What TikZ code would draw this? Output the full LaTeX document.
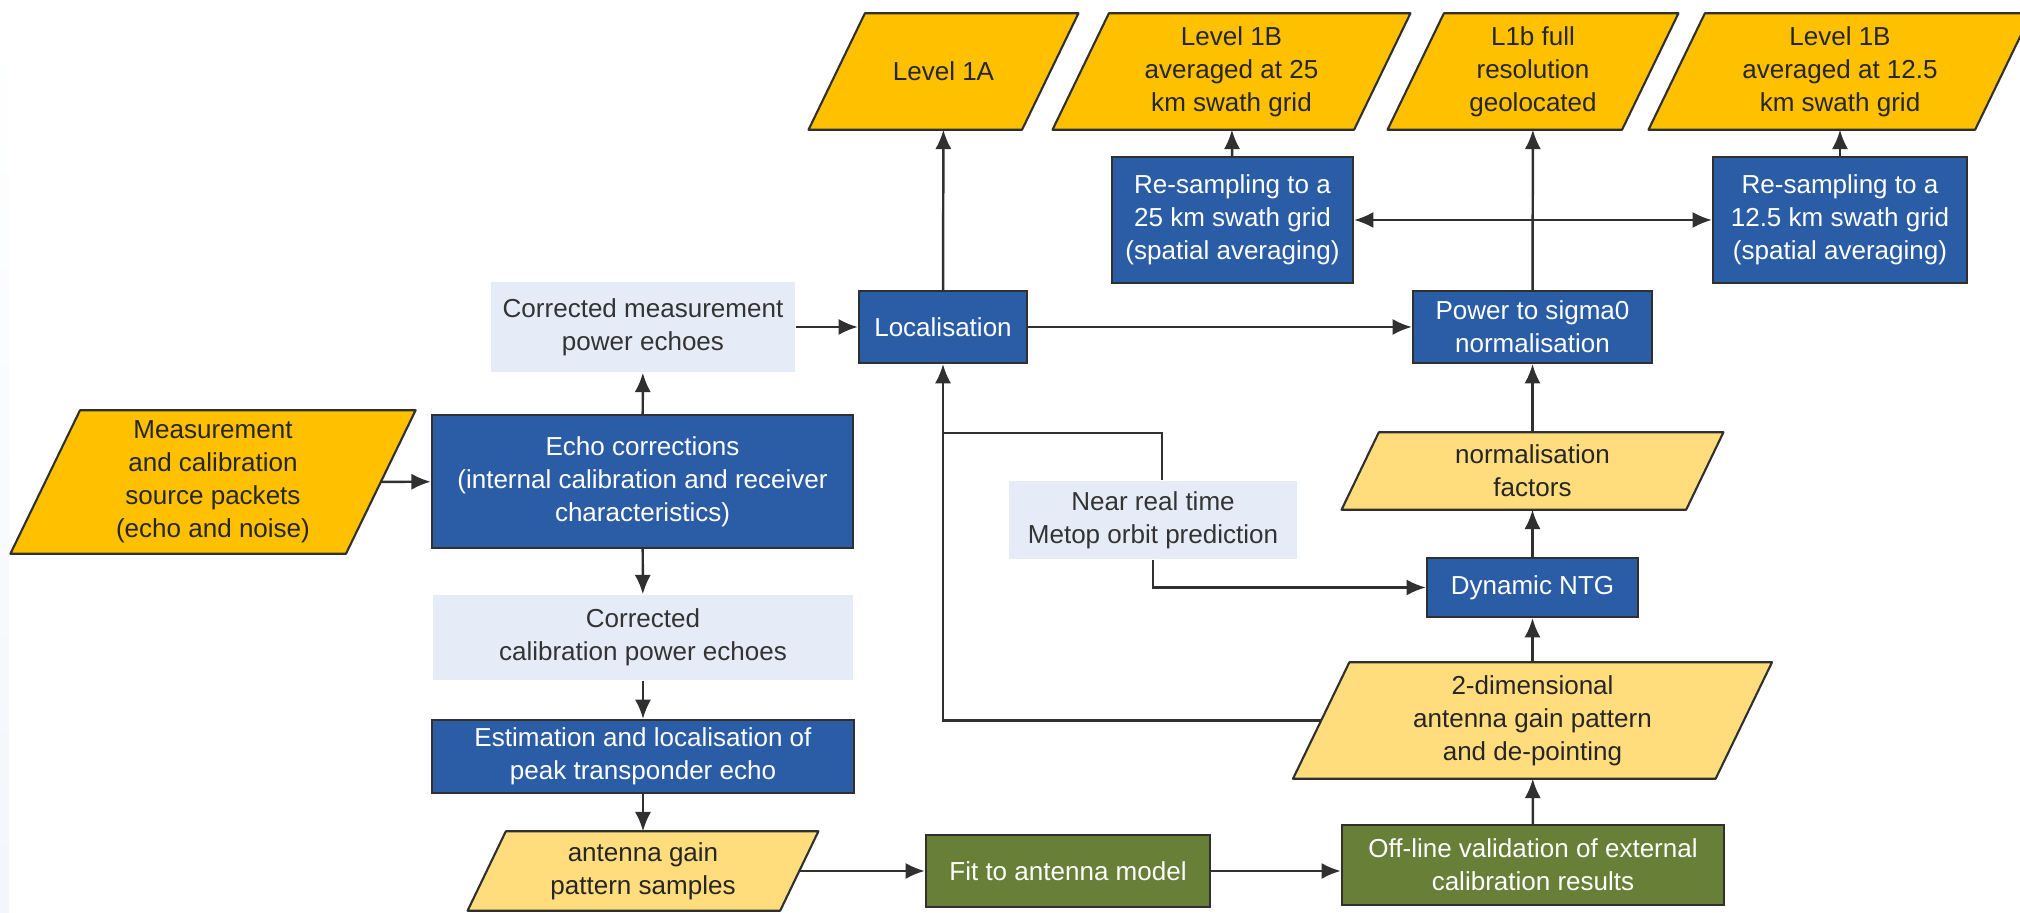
\documentclass[tikz,border=0pt]{standalone}
\usepackage{fontspec}
\setmainfont{Liberation Sans}
\usetikzlibrary{arrows.meta}
\pgfdeclarelayer{background}
\pgfsetlayers{background,main}
\definecolor{prodorange}{HTML}{FFC000}
\definecolor{auxyellow}{HTML}{FFDC7C}
\definecolor{procblue}{HTML}{2A5DA6}
\definecolor{noteblue}{HTML}{E6ECF7}
\definecolor{calgreen}{HTML}{687F37}
\definecolor{linegray}{HTML}{303030}
\definecolor{stripblue}{HTML}{E0E8F4}
\begin{document}
\begin{tikzpicture}[x=0.01cm, y=-0.01cm,
    every node/.style={font=\fontsize{7.4}{9.4}\selectfont, align=center, inner sep=0pt},
    databox/.style={rectangle, text=black!85},
    proc/.style={rectangle, draw=linegray, line width=0.6pt, fill=procblue, text=white},
    calproc/.style={rectangle, draw=linegray, line width=0.6pt, fill=calgreen, text=white},
    note/.style={rectangle, fill=noteblue, text=black!80},
    flow/.style={line width=0.7pt, draw=linegray, -{Latex[length=5.5pt,width=4.6pt]}}]
    \useasboundingbox (0,0) rectangle (2020,913);
    \clip (0,0) rectangle (2020,913);
    \fill[top color=white, middle color=stripblue, bottom color=white!60!stripblue] (0,30) rectangle (9,913);
        \node[databox, minimum width=2.12cm, minimum height=1.15cm] (l1a) at (943.5,71.5) {Level 1A};
        \node[databox, minimum width=3.00cm, minimum height=1.15cm] (l1b25) at (1231.5,71.5) {Level 1B\\averaged at 25\\km swath grid};
        \node[databox, minimum width=2.33cm, minimum height=1.15cm] (l1bfull) at (1533,71.5) {L1b full\\resolution\\geolocated};
        \node[databox, minimum width=3.25cm, minimum height=1.15cm] (l1b125) at (1840,71.5) {Level 1B\\averaged at 12.5\\km swath grid};
        \node[proc, minimum width=2.41cm, minimum height=1.26cm] (res25) at (1232.5,220) {Re-sampling to a\\25 km swath grid\\(spatial averaging)};
        \node[proc, minimum width=2.54cm, minimum height=1.26cm] (res125) at (1840,220) {Re-sampling to a\\12.5 km swath grid\\(spatial averaging)};
        \node[note, minimum width=3.04cm, minimum height=0.90cm] (corrmeas) at (643,327) {Corrected measurement\\power echoes};
        \node[proc, minimum width=1.68cm, minimum height=0.72cm] (loc) at (943,327) {Localisation};
        \node[proc, minimum width=2.39cm, minimum height=0.72cm] (power) at (1532.5,327) {Power to sigma0\\normalisation};
        \node[databox, minimum width=3.34cm, minimum height=1.42cm] (meas) at (213,482) {Measurement\\and calibration\\source packets\\(echo and noise)};
        \node[proc, minimum width=4.21cm, minimum height=1.33cm] (echo) at (642.5,481.5) {Echo corrections\\(internal calibration and receiver\\characteristics)};
        \node[databox, minimum width=3.43cm, minimum height=0.76cm] (normf) at (1532.5,471) {normalisation\\factors};
        \node[note, minimum width=2.88cm, minimum height=0.78cm] (nrt) at (1153,520) {Near real time\\Metop orbit prediction};
        \node[proc, minimum width=2.11cm, minimum height=0.59cm] (dntg) at (1532.5,587.5) {Dynamic NTG};
        \node[note, minimum width=4.20cm, minimum height=0.85cm] (corrcal) at (643,637.5) {Corrected\\calibration power echoes};
        \node[databox, minimum width=4.21cm, minimum height=1.15cm] (twod) at (1532.5,720.5) {2-dimensional\\antenna gain pattern\\and de-pointing};
        \node[proc, minimum width=4.21cm, minimum height=0.73cm] (estim) at (643,756.5) {Estimation and localisation of\\peak transponder echo};
        \node[databox, minimum width=3.11cm, minimum height=0.78cm] (agps) at (643,871) {antenna gain\\pattern samples};
        \node[calproc, minimum width=2.84cm, minimum height=0.72cm] (fit) at (1068,871) {Fit to antenna model};
        \node[calproc, minimum width=3.82cm, minimum height=0.80cm] (offline) at (1533,865) {Off-line validation of external\\calibration results};
    \begin{pgfonlayer}{background}
        \foreach \n/\h/\c in {l1a/1.15/prodorange, l1b25/1.15/prodorange, l1bfull/1.15/prodorange,
            l1b125/1.15/prodorange, meas/1.42/prodorange, normf/0.76/auxyellow,
            twod/1.15/auxyellow, agps/0.78/auxyellow}
            \draw[fill=\c, draw=linegray, line width=0.6pt, line join=round]
                ([xshift=\h*0.245cm]\n.north west) -- ([xshift=\h*0.245cm]\n.north east)
                -- ([xshift=-\h*0.245cm]\n.south east) -- ([xshift=-\h*0.245cm]\n.south west) -- cycle;
    \end{pgfonlayer}
        \coordinate (orbitjoin) at (943,433);
        \draw[flow] (meas) -- (echo);
        \draw[flow] (echo) -- (corrmeas);
        \draw[flow] (corrmeas) -- (loc);
        \draw[flow] (loc) -- (power);
        \draw[flow] (loc) -- (l1a);
        \draw[flow] (power) -- (l1bfull);
        \draw[flow] (res25) -- (l1b25);
        \draw[flow] (res125) -- (l1b125);
        \draw[flow, {Latex[length=5.5pt,width=4.6pt]}-{Latex[length=5.5pt,width=4.6pt]}] (res25) -- (res125);
        \draw[flow] (echo) -- (corrcal);
        \draw[flow] (corrcal) -- (estim);
        \draw[flow] (estim) -- (agps);
        \draw[flow] (agps) -- (fit);
        \draw[flow] (fit) -- (fit -| offline.west);
        \draw[flow] (offline) -- (twod);
        \draw[flow] (twod) -- (dntg);
        \draw[flow] (dntg) -- (normf);
        \draw[flow] (normf) -- (power);
        \draw[flow] (twod.west) -| (loc.south);
        \draw[flow, -] ([xshift=2.5pt]nrt.north) |- (orbitjoin);
        \draw[flow] (nrt.south) |- (dntg.west);
\end{tikzpicture}
\end{document}
